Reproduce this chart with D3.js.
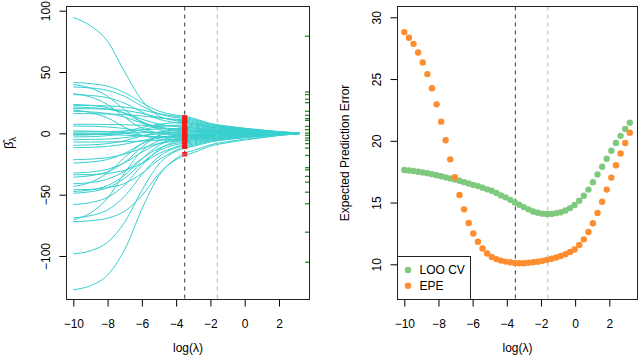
<!DOCTYPE html>
<html>
<head>
<meta charset="utf-8">
<script src="https://cdn.jsdelivr.net/npm/d3@7"></script>
<style>
	body { margin: 0; background: #fff; }
	svg { display: block; }
</style>
</head>
<body>
<script>
// ridge coefficient paths, sampled at these log(lambda) values
const pathX = [-10, -9, -8, -7, -6, -5, -4, -3.5, -3, -2, -1, 0, 1, 2, 3.2];
const coefPaths = [
	[94.5, 87.7, 75, 50, 27, 14.1, 10.3, 9, 7.9, 5.2, 3.8, 2.7, 1.8, 0.9, 0.2],
	[41.4, 40.6, 38.4, 33.2, 25, 18.1, 14.8, 14, 12.3, 8.1, 5.9, 4.2, 2.8, 1.4, 0.3],
	[39.8, 36.9, 30.2, 19.2, 9.6, 5.2, 3.6, 3, 2.6, 1.7, 1.3, 0.9, 0.6, 0.3, 0.1],
	[37.8, 37, 35, 30.1, 22.3, 15.9, 12.8, 12, 10.6, 7, 5, 3.6, 2.4, 1.2, 0.2],
	[32.4, 29.6, 23.5, 13.1, 4.2, 0.1, -1.5, -2, -1.8, -1.2, -0.8, -0.6, -0.4, -0.2, 0],
	[31.6, 30.9, 29, 24.5, 17.4, 11.5, 8.7, 8, 7, 4.6, 3.4, 2.4, 1.6, 0.8, 0.2],
	[23.5, 22.8, 20.9, 16.4, 9.1, 3.1, 0.2, -0.5, -0.4, -0.3, -0.2, -0.2, -0.1, -0.1, 0],
	[22.9, 22.8, 22.4, 21.4, 19.1, 16, 13.8, 13, 11.4, 7.5, 5.5, 3.9, 2.6, 1.3, 0.3],
	[21.5, 21, 19.7, 16.6, 11.6, 7.5, 5.5, 5, 4.4, 2.9, 2.1, 1.5, 1, 0.5, 0.1],
	[20.2, 20.1, 19.7, 18.7, 16.3, 13.1, 10.8, 10, 8.8, 5.8, 4.2, 3, 2, 1, 0.2],
	[19, 17, 12.5, 5, -1.5, -4.5, -5.6, -6, -5.3, -3.5, -2.5, -1.8, -1.2, -0.6, -0.1],
	[18, 17.5, 16.2, 13.2, 8.4, 4.4, 2.5, 2, 1.8, 1.2, 0.8, 0.6, 0.4, 0.2, 0],
	[16.1, 16, 15.8, 15.3, 14.2, 12.5, 11.4, 11, 9.7, 6.4, 4.6, 3.3, 2.2, 1.1, 0.2],
	[7.4, 7.4, 7.2, 7, 6.6, 6.2, 6, 6, 5.3, 3.5, 2.5, 1.8, 1.2, 0.6, 0.1],
	[6, 5.8, 5.2, 3.9, 1.8, 0.1, -0.8, -1, -0.9, -0.6, -0.4, -0.3, -0.2, -0.1, 0],
	[2, 1.8, 1.3, 0.2, -1.6, -3.1, -3.8, -4, -3.5, -2.3, -1.7, -1.2, -0.8, -0.4, -0.1],
	[1.1, 1.2, 1.4, 2, 2.8, 3.6, 3.9, 4, 3.5, 2.3, 1.7, 1.2, 0.8, 0.4, 0.1],
	[0, 0, 0.1, 0.3, 0.6, 0.9, 1, 1, 0.9, 0.6, 0.4, 0.3, 0.2, 0.1, 0],
	[-0.8, -0.9, -1, -1.5, -2.1, -2.7, -2.9, -3, -2.6, -1.7, -1.3, -0.9, -0.6, -0.3, -0.1],
	[-1.5, -1.2, -0.3, 1.6, 4.8, 7.4, 8.7, 9, 7.9, 5.2, 3.8, 2.7, 1.8, 0.9, 0.2],
	[-3, -2.7, -1.9, 0, 3, 5.5, 6.7, 7, 6.2, 4.1, 2.9, 2.1, 1.4, 0.7, 0.1],
	[-5.2, -5, -4.6, -3.5, -1.8, -0.4, 0.3, 0.5, 0.4, 0.3, 0.2, 0.2, 0.1, 0.1, 0],
	[-7.1, -7.1, -7, -6.8, -6.3, -5.6, -5.2, -5, -4.4, -2.9, -2.1, -1.5, -1, -0.5, -0.1],
	[-9.8, -9.4, -8.4, -6, -2.1, 1.1, 2.6, 3, 2.6, 1.7, 1.3, 0.9, 0.6, 0.3, 0.1],
	[-11.7, -11.4, -10.6, -8.8, -5.9, -3.5, -2.3, -2, -1.8, -1.2, -0.8, -0.6, -0.4, -0.2, 0],
	[-21.5, -21, -19.8, -16.9, -12.2, -8.3, -6.5, -6, -5.3, -3.5, -2.5, -1.8, -1.2, -0.6, -0.1],
	[-24.2, -23.4, -21.3, -16.3, -8.5, -1.9, 1.2, 2, 1.8, 1.2, 0.8, 0.6, 0.4, 0.2, 0],
	[-32.4, -31.5, -29.3, -23.9, -15.4, -8.3, -4.9, -4, -3.5, -2.3, -1.7, -1.2, -0.8, -0.4, -0.1],
	[-33.8, -33.6, -32.6, -30.1, -24.4, -16.4, -11, -9, -7.9, -5.2, -3.8, -2.7, -1.8, -0.9, -0.2],
	[-35.7, -34.5, -31.2, -23.5, -11.3, -1.1, 3.8, 5, 4.4, 2.9, 2.1, 1.5, 1, 0.5, 0.1],
	[-41.1, -40.1, -37.3, -30.9, -20.6, -12.1, -8, -7, -6.2, -4.1, -2.9, -2.1, -1.4, -0.7, -0.1],
	[-43.3, -39.9, -32.3, -19.6, -8.6, -3.5, -1.6, -1, -0.9, -0.6, -0.4, -0.3, -0.2, -0.1, 0],
	[-46, -45.7, -44.3, -40.8, -32.7, -21.5, -13.8, -11, -9.7, -6.4, -4.6, -3.3, -2.2, -1.1, -0.2],
	[-47.4, -46.1, -42.5, -34.1, -20.8, -9.7, -4.3, -3, -2.6, -1.7, -1.3, -0.9, -0.6, -0.3, -0.1],
	[-48.8, -47.6, -44.3, -36.6, -24.3, -14.1, -9.2, -8, -7, -4.6, -3.4, -2.4, -1.6, -0.8, -0.2],
	[-58, -56.4, -52.2, -42.1, -26.2, -13, -6.6, -5, -4.4, -2.9, -2.1, -1.5, -1, -0.5, -0.1],
	[-68.9, -67.1, -62.4, -51.2, -33.6, -18.8, -11.8, -10, -8.8, -5.8, -4.2, -3, -2, -1, -0.2],
	[-70.5, -65, -52.7, -32.1, -14.3, -6.1, -3, -2, -1.8, -1.2, -0.8, -0.6, -0.4, -0.2, 0],
	[-71.9, -71.3, -69.1, -63.5, -50.7, -32.8, -20.5, -16, -14.1, -9.3, -6.7, -4.8, -3.2, -1.6, -0.3],
	[-98.3, -95.7, -88.8, -72.4, -46.5, -24.9, -14.6, -12, -10.6, -7, -5, -3.6, -2.4, -1.2, -0.2],
	[-127.5, -124.2, -115.5, -94.7, -61.8, -34.4, -21.3, -18, -15.8, -10.4, -7.6, -5.4, -3.6, -1.8, -0.4]
];
// true coefficients shown as a rug on the right edge
const rugCoefs = [79.2, 33.7, 31.6, 27.8, 25, 18, 14.7, 12, 10.6, 5.7, 3, 0.2, -1.6, -3.8, -5.7, -8.4,
	-12, -18, -28, -29.7, -35.1, -39.8, -48, -57.4, -80.6, -105.1];

const lambdaCV = -3.5;
const lambdaEPE = -1.6;

// prediction error curves
const gridX = [-10, -9.73, -9.46, -9.19, -8.92, -8.65, -8.38, -8.11, -7.84, -7.58,
	-7.31, -7.04, -6.77, -6.5, -6.23, -5.96, -5.69, -5.42, -5.15, -4.88,
	-4.61, -4.34, -4.07, -3.8, -3.53, -3.27, -3, -2.73, -2.46, -2.19,
	-1.92, -1.65, -1.38, -1.11, -0.84, -0.57, -0.3, -0.03, 0.24, 0.51,
	0.78, 1.04, 1.31, 1.58, 1.85, 2.12, 2.39, 2.66, 2.93, 3.2];
const looCV = [17.64, 17.6, 17.55, 17.5, 17.44, 17.38, 17.3, 17.22, 17.13, 17.04,
	16.95, 16.86, 16.76, 16.65, 16.54, 16.43, 16.33, 16.2, 16.07, 15.95,
	15.78, 15.58, 15.42, 15.22, 15, 14.82, 14.63, 14.45, 14.28, 14.17,
	14.1, 14.07, 14.08, 14.14, 14.22, 14.36, 14.55, 14.8, 15.15, 15.55,
	16.05, 16.65, 17.28, 17.9, 18.55, 19.2, 19.83, 20.4, 20.95, 21.47];
const epe = [28.8, 28.35, 27.85, 27.15, 26.35, 25.4, 24.25, 22.95, 21.55, 20.05,
	18.5, 17.05, 15.62, 14.45, 13.35, 12.5, 11.82, 11.28, 10.88, 10.6,
	10.42, 10.3, 10.22, 10.16, 10.1, 10.08, 10.09, 10.12, 10.16, 10.21,
	10.28, 10.36, 10.45, 10.55, 10.67, 10.82, 11, 11.2, 11.56, 12.02,
	12.62, 13.32, 14.16, 15.06, 16.05, 17.02, 18.02, 18.98, 19.82, 20.66];

const xTicks = [-10, -8, -6, -4, -2, 0, 2];
const yTicksLeft = [-100, -50, 0, 50, 100];
const yTicksRight = [10, 15, 20, 25, 30];
const legendLabels = ["LOO CV", "EPE"];

const font = "Liberation Sans, Arial, Helvetica, sans-serif";
const cvColor = "#7fc97f";
const epeColor = "#fd8d2e";

const svg = d3.select("body").append("svg")
	.attr("width", 640)
	.attr("height", 356)
	.attr("font-family", font);

const boxL = {left: 66.5, right: 309.5, top: 6.5, bottom: 299.5};
const boxR = {left: 397.5, right: 637.5, top: 6.5, bottom: 299.5};

const xL = d3.scaleLinear([-10, 2], [73.3, 279]);
const yL = d3.scaleLinear([-100, 100], [256, 10.7]);
const xR = d3.scaleLinear([-10, 2], [404.3, 609.3]);
const yR = d3.scaleLinear([10, 30], [264.3, 17.3]);

function axes(g, box, x, y, yTicks) {
	g.append("g")
		.attr("transform", `translate(0,${box.bottom})`)
		.call(d3.axisBottom(x).tickValues(xTicks).tickSize(7).tickPadding(13))
		.call(g => g.select(".domain").remove())
		.attr("font-size", 12)
		.attr("font-family", font);

	g.append("g")
		.attr("transform", `translate(${box.left},0)`)
		.call(d3.axisLeft(y).tickValues(yTicks).tickSize(7))
		.call(g => g.select(".domain").remove())
		.attr("font-size", 12)
		.attr("font-family", font)
		.call(g => g.selectAll(".tick text")
			.attr("x", null)
			.attr("dy", null)
			.attr("text-anchor", "middle")
			.attr("transform", "translate(-17,0) rotate(-90)"));

	g.append("rect")
		.attr("x", box.left)
		.attr("y", box.top)
		.attr("width", box.right - box.left)
		.attr("height", box.bottom - box.top)
		.attr("fill", "none")
		.attr("stroke", "#222");

	g.append("text")
		.attr("x", (box.left + box.right) / 2)
		.attr("y", 352)
		.attr("text-anchor", "middle")
		.attr("font-size", 12)
		.text("log(λ)");
}

function vlines(g, box, x) {
	g.selectAll("line.vl")
		.data([{v: lambdaCV, c: "#333"}, {v: lambdaEPE, c: "#8ccf8c"}])
		.join("line")
			.attr("x1", d => x(d.v))
			.attr("x2", d => x(d.v))
			.attr("y1", box.top)
			.attr("y2", box.bottom)
			.attr("stroke", d => d.c)
			.attr("stroke-dasharray", "4,4");
}

// left panel: coefficient paths
const left = svg.append("g");

const line = d3.line()
	.x((d, i) => xL(pathX[i]))
	.y(d => yL(d))
	.curve(d3.curveMonotoneX);

left.append("g")
		.attr("fill", "none")
		.attr("stroke", "#38cfcf")
		.attr("stroke-width", 1)
	.selectAll("path")
	.data(coefPaths)
	.join("path")
		.attr("d", line);

vlines(left, boxL, xL);

const cvIndex = pathX.indexOf(lambdaCV);
left.append("g")
		.attr("fill", "#f21c1c")
	.selectAll("rect")
	.data(coefPaths.map(p => p[cvIndex]))
	.join("rect")
		.attr("x", xL(lambdaCV) - 2.5)
		.attr("y", d => yL(d) - 1)
		.attr("width", 5)
		.attr("height", 2);

left.append("g")
		.attr("stroke", "#2a8a2a")
		.attr("stroke-width", 1.3)
	.selectAll("line")
	.data(rugCoefs)
	.join("line")
		.attr("x1", boxL.right - 4.5)
		.attr("x2", boxL.right - 0.5)
		.attr("y1", d => yL(d))
		.attr("y2", d => yL(d));

axes(left, boxL, xL, yL, yTicksLeft);

const yLab = left.append("text")
	.attr("transform", "translate(13,143) rotate(-90)")
	.attr("text-anchor", "middle")
	.attr("font-size", 13);
yLab.append("tspan").text("β\u0302");
yLab.append("tspan").attr("font-size", 9).attr("dy", 3).text("λ");

// right panel: prediction error
const right = svg.append("g");

vlines(right, boxR, xR);

right.append("g")
		.attr("fill", cvColor)
	.selectAll("circle")
	.data(looCV)
	.join("circle")
		.attr("cx", (d, i) => xR(gridX[i]))
		.attr("cy", d => yR(d))
		.attr("r", 3.2);

right.append("g")
		.attr("fill", epeColor)
	.selectAll("circle")
	.data(epe)
	.join("circle")
		.attr("cx", (d, i) => xR(gridX[i]))
		.attr("cy", d => yR(d))
		.attr("r", 3.2);

axes(right, boxR, xR, yR, yTicksRight);

right.append("text")
	.attr("transform", `translate(348.5,${(boxR.top + boxR.bottom) / 2}) rotate(-90)`)
	.attr("text-anchor", "middle")
	.attr("font-size", 12)
	.text("Expected Prediction Error");

// legend, bottom left
const legend = right.append("g");
legend.append("rect")
	.attr("x", boxR.left)
	.attr("y", 256.5)
	.attr("width", 73)
	.attr("height", boxR.bottom - 256.5)
	.attr("fill", "#fff")
	.attr("stroke", "#222");

const item = legend.selectAll("g.item")
	.data(legendLabels)
	.join("g")
		.attr("transform", (d, i) => `translate(${boxR.left + 10.5},${270 + i * 15.7})`);
item.append("circle")
	.attr("r", 3.2)
	.attr("fill", (d, i) => [cvColor, epeColor][i]);
item.append("text")
	.attr("x", 11.5)
	.attr("dy", "0.36em")
	.attr("font-size", 12)
	.text(d => d);
</script>
</body>
</html>
